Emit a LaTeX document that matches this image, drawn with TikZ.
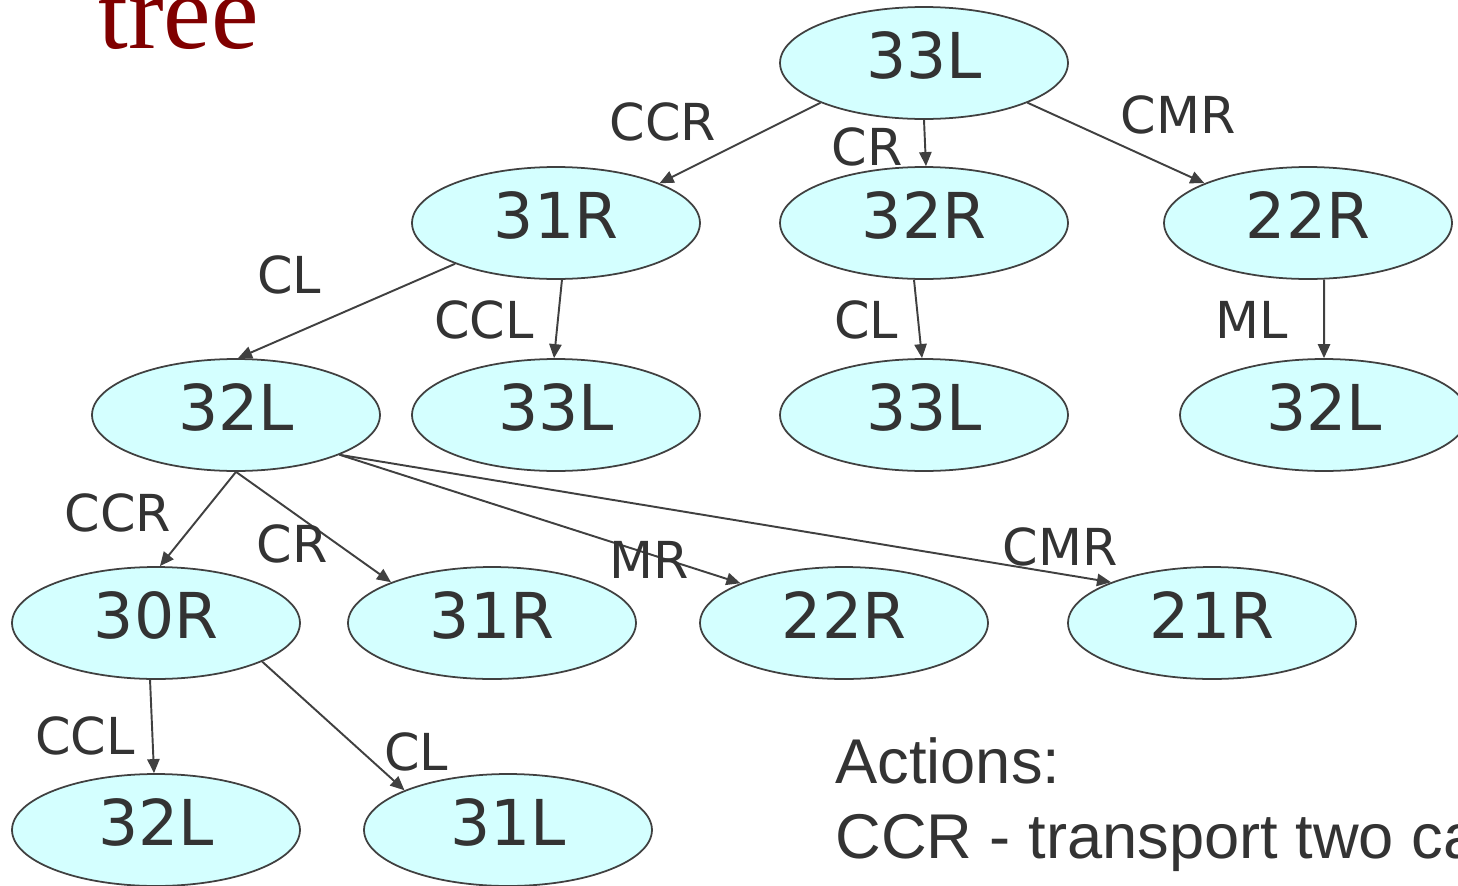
\documentclass[tikz,border=0pt]{standalone}
\usepackage{fontspec}
\setmainfont{DejaVu Sans}
\newfontfamily\notefont{Liberation Sans}
\newfontfamily\titlefont{Liberation Serif}
\usetikzlibrary{arrows.meta, shapes.geometric}
\definecolor{StateCyan}{RGB}{212, 255, 255}
\definecolor{InkGray}{RGB}{51, 51, 51}
\definecolor{EdgeGray}{RGB}{64, 64, 64}
\definecolor{TitleRed}{RGB}{128, 0, 0}

\begin{document}
\begin{tikzpicture}[x=0.02cm, y=-0.02cm,
          state/.style={ellipse, draw=EdgeGray, line width=1pt, fill=StateCyan,
                        minimum width=5.76cm, minimum height=2.24cm, inner sep=0pt,
                        text=InkGray, text depth=0.32cm, font=\fontsize{36}{40}\selectfont},
          act/.style={text=InkGray, inner sep=0pt, font=\fontsize{29}{32}\selectfont},
          note/.style={text=InkGray, inner sep=0pt, anchor=base west,
                       font=\notefont\fontsize{36}{40}\selectfont},
          arr/.style={-{Triangle[length=8pt, width=7pt]}, line width=1.1pt, EdgeGray}
        ]
        \useasboundingbox (0,0) rectangle (1458,886);

        \node[TitleRed, inner sep=0pt, anchor=base west, font=\titlefont\fontsize{61}{64}\selectfont]
              (title) at (98,48) {tree};

        % states, one row per depth
        \node[state] (s0)  at (924,63)  {33L};

        \node[state] (s1a) at (556,223)  {31R};
        \node[state] (s1b) at (924,223)  {32R};
        \node[state] (s1c) at (1308,223) {22R};

        \node[state] (s2a) at (236,415)  {32L};
        \node[state] (s2b) at (556,415)  {33L};
        \node[state] (s2c) at (924,415)  {33L};
        \node[state] (s2d) at (1324,415) {32L};

        \node[state] (s3a) at (156,623)  {30R};
        \node[state] (s3b) at (492,623)  {31R};
        \node[state] (s3c) at (844,623)  {22R};
        \node[state] (s3d) at (1212,623) {21R};

        \node[state] (s4a) at (156,830)  {32L};
        \node[state] (s4b) at (508,830)  {31L};

        % moves
        \draw[arr] (s0.201)  -- (s1a.21);
        \draw[arr] (s0.south) -- (s1b.88);
        \draw[arr] (s0.339)  -- (s1c.159);

        \draw[arr] (s1a.202) -- (s2a.88);
        \draw[arr] (s1a.276) -- (s2b.92);
        \draw[arr] (s1b.260) -- (s2c.92);
        \draw[arr] (s1c.286) -- (s2d.north);

        \draw[arr] (s2a.south) -- (s3a.86);
        \draw[arr] (s2a.south) -- (s3b.158);
        \draw[arr] (s2a.339)  -- (s3c.159);
        \draw[arr] (s2a.339)  -- (s3d.158);

        \draw[arr] (s3a.264) -- (s4a.92);
        \draw[arr] (s3a.340) -- (s4b.159);

        % move labels
        \node[act] (m1)  at (663,122)  {CCR};
        \node[act] (m2)  at (867,147)  {CR};
        \node[act] (m3)  at (1178,115) {CMR};
        \node[act] (m4)  at (289,275)  {CL};
        \node[act] (m5)  at (484,320)  {CCL};
        \node[act] (m6)  at (866,320)  {CL};
        \node[act] (m7)  at (1252,320) {ML};
        \node[act] (m8)  at (118,513)  {CCR};
        \node[act] (m9)  at (292,544)  {CR};
        \node[act] (m10) at (649,560)  {MR};
        \node[act] (m11) at (1060,547) {CMR};
        \node[act] (m12) at (85,736)   {CCL};
        \node[act] (m13) at (416,752)  {CL};

        \node[note] (legend)  at (835,783) {Actions:};
        \node[note] (legend1) at (835,858) {CCR - transport two cannibals};
\end{tikzpicture}
\end{document}
